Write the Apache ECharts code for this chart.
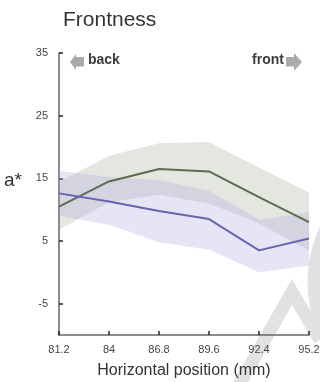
<!DOCTYPE html>
<html>
<head>
<meta charset="utf-8">
<script src="https://cdn.jsdelivr.net/npm/echarts@6/dist/echarts.min.js"></script>
<style>
  html, body { margin: 0; padding: 0; background: #fff; }
  #chart { width: 320px; height: 382px; }
</style>
</head>
<body>
<div id="chart"></div>
<script>
// Horizontal positions (mm)
const positions = ['81.2', '84', '86.8', '89.6', '92.4', '95.2'];

// Group A (olive): mean a* with its spread band
const olivMean  = [10.5, 14.5, 16.5, 16.1, 12.0, 8.0];
const olivUpper = [14.4, 18.6, 20.6, 20.8, 16.7, 12.7];
const olivLower = [6.8, 11.2, 12.4, 11.0, 7.8, 3.5];

// Group B (violet): mean a* with its spread band
const violMean  = [12.6, 11.3, 9.8, 8.5, 3.5, 5.4];
const violUpper = [16.2, 15.2, 14.7, 13.0, 7.7, 9.6];
const violLower = [9.0, 7.6, 4.8, 3.6, -0.7, 1.1];

// y-axis tick labels
const yTicks = [-5, 5, 15, 25, 35];

const FONT = 'Liberation Sans, Arial, sans-serif';
const diff = (u, l) => u.map((v, i) => +(v - l[i]).toFixed(3));

const chart = echarts.init(document.getElementById('chart'), null, { renderer: 'canvas' });

function bandSeries(stack, lower, upper, color, z) {
  return [
    {
      type: 'line', stack: stack, data: lower, symbol: 'none',
      lineStyle: { opacity: 0 }, silent: true, z: z
    },
    {
      type: 'line', stack: stack, data: diff(upper, lower), symbol: 'none',
      lineStyle: { opacity: 0 }, areaStyle: { color: color, opacity: 1 }, silent: true, z: z
    }
  ];
}

chart.setOption({
  animation: false,
  backgroundColor: '#ffffff',
  title: {
    text: 'Frontness',
    left: 58, top: 5,
    textStyle: { fontFamily: FONT, fontSize: 21, fontWeight: 'normal', color: '#333' }
  },
  grid: { left: 59, right: 11, top: 53, bottom: 47, containLabel: false, outerBoundsMode: 'none' },
  xAxis: {
    type: 'category',
    data: positions,
    boundaryGap: false,
    name: 'Horizontal position (mm)',
    nameLocation: 'middle',
    nameGap: 28,
    nameTextStyle: { fontFamily: FONT, fontSize: 16, color: '#333' },
    axisLine: { onZero: false, lineStyle: { color: '#666', width: 1.5 } },
    axisTick: { inside: true, length: 4, lineStyle: { color: '#222', width: 1.5 } },
    axisLabel: { margin: 9, fontFamily: FONT, fontSize: 11, color: '#444' },
    splitLine: { show: false }
  },
  yAxis: {
    type: 'value',
    min: -10, max: 35,
    axisLine: { show: true, lineStyle: { color: '#666', width: 1.5 } },
    axisTick: { show: true, inside: true, length: 4, customValues: yTicks, lineStyle: { color: '#222', width: 1.5 } },
    axisLabel: { margin: 11, fontFamily: FONT, fontSize: 11, color: '#444', customValues: yTicks },
    splitLine: { show: false }
  },
  graphic: [
    // faint background watermark strokes
    { type: 'polyline', z: -10, silent: true,
      shape: { points: [[236, 390], [292, 292], [320, 340]] },
      style: { fill: null, stroke: '#e2e2e2', lineWidth: 13 } },
    { type: 'circle', z: -10, silent: true,
      shape: { cx: 437, cy: 282, r: 123 },
      style: { fill: 'none', stroke: '#e2e2e2', lineWidth: 13 } },
    // y-axis title
    { type: 'text', left: 4, top: 171,
      style: { text: 'a*', fontFamily: FONT, fontSize: 19, fill: '#333' } },
    // "back" direction marker
    { type: 'polygon', shape: { points: [[70, 62], [76, 54], [76, 57], [84, 57], [84, 66.5], [76, 66.5], [76, 70]] },
      style: { fill: '#aaaaaa' } },
    { type: 'text', left: 88, top: 53,
      style: { text: 'back', fontFamily: FONT, fontSize: 14, fontWeight: 'bold', fill: '#3d3d3d' } },
    // "front" direction marker
    { type: 'polygon', shape: { points: [[302, 62], [294, 53], [294, 57], [286, 57], [286, 66.5], [294, 66.5], [294, 71]] },
      style: { fill: '#aaaaaa' } },
    { type: 'text', right: 36, top: 53,
      style: { text: 'front', fontFamily: FONT, fontSize: 14, fontWeight: 'bold', fill: '#3d3d3d' } }
  ],
  series: [
    ...bandSeries('olive', olivLower, olivUpper, 'rgba(120,135,100,0.2)', 1),
    ...bandSeries('violet', violLower, violUpper, 'rgba(172,168,222,0.3)', 2),
    {
      type: 'line', data: olivMean, symbol: 'none', z: 5,
      lineStyle: { color: '#5c6b52', width: 2 }
    },
    {
      type: 'line', data: violMean, symbol: 'none', z: 5,
      lineStyle: { color: '#6a63b3', width: 2 }
    }
  ]
});
</script>
</body>
</html>
